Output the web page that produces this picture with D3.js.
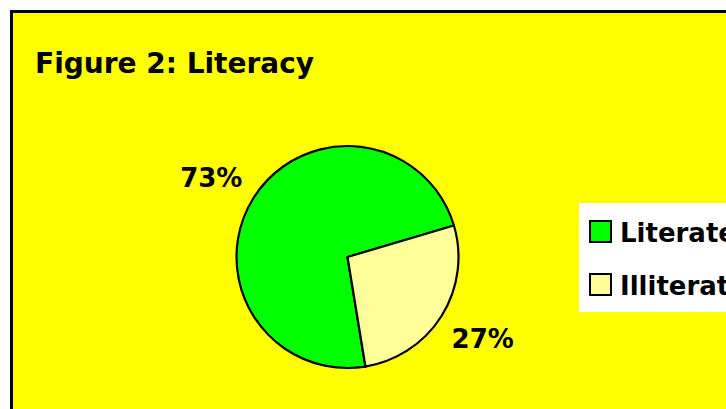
<!DOCTYPE html>
<html>
<head>
<meta charset="utf-8">
<script src="https://cdn.jsdelivr.net/npm/d3@7"></script>
<style>
    body { margin: 0; background: #fff; overflow: hidden; }
    text { font-family: "DejaVu Sans", sans-serif; font-weight: bold; fill: #000; }
</style>
</head>
<body>
<div id="chart"></div>
<script>
var categories      =   [ 'Literate', 'Illiterate' ];
var values          =   [ 73, 27 ];
var colors          =   [ '#00ff00', '#ffff99' ];

var chart_width     =   726;
var chart_height    =   409;

var svg             =   d3.select( '#chart' )
    .append( 'svg' )
    .attr( 'width', chart_width )
    .attr( 'height', chart_height );

// Background frame (runs off the right and bottom edge)
svg.append( 'rect' )
    .attr( 'x', 11.5 )
    .attr( 'y', 11.5 )
    .attr( 'width', chart_width + 20 )
    .attr( 'height', chart_height + 20 )
    .attr( 'fill', '#ffff00' )
    .attr( 'stroke', '#000' )
    .attr( 'stroke-width', 3 );

// Title
svg.append( 'text' )
    .attr( 'x', 35 )
    .attr( 'y', 73 )
    .attr( 'font-size', 28 )
    .text( 'Figure 2: Literacy' );

// Pie
var cx = 347.5, cy = 257, radius = 111;
var start = 170.7 * Math.PI / 180;

var pie = d3.pie()
    .sort( null )
    .startAngle( start )
    .endAngle( start + 2 * Math.PI );

var arc = d3.arc()
    .innerRadius( 0 )
    .outerRadius( radius );

var slices = pie( values );

var g = svg.append( 'g' )
    .attr( 'transform', 'translate(' + cx + ',' + cy + ')' );

g.selectAll( 'path' )
    .data( slices )
    .enter()
    .append( 'path' )
    .attr( 'd', arc )
    .attr( 'fill', function( d, i ){ return colors[i]; } )
    .attr( 'stroke', '#000' )
    .attr( 'stroke-width', 2.2 )
    .attr( 'stroke-linejoin', 'round' );

// Percent labels, placed outside the slices
var label_arc = d3.arc()
    .innerRadius( radius + 38 )
    .outerRadius( radius + 38 );

var label_offsets = [ [ -10, 9 ], [ 9, 12 ] ];

g.selectAll( '.pct' )
    .data( slices )
    .enter()
    .append( 'text' )
    .attr( 'class', 'pct' )
    .attr( 'text-anchor', 'middle' )
    .attr( 'font-size', 26 )
    .attr( 'x', function( d, i ){
        return label_arc.centroid( d )[0] + label_offsets[i][0];
    })
    .attr( 'y', function( d, i ){
        return label_arc.centroid( d )[1] + label_offsets[i][1];
    })
    .text( function( d ){ return d.data + '%'; } );

// Legend
var legend = svg.append( 'g' )
    .attr( 'transform', 'translate(579,203)' );

legend.append( 'rect' )
    .attr( 'width', 200 )
    .attr( 'height', 109 )
    .attr( 'fill', '#fff' );

var items = legend.selectAll( '.item' )
    .data( categories )
    .enter()
    .append( 'g' )
    .attr( 'class', 'item' )
    .attr( 'transform', function( d, i ){ return 'translate(0,' + ( i * 53 ) + ')'; } );

items.append( 'rect' )
    .attr( 'x', 11 )
    .attr( 'y', 18 )
    .attr( 'width', 21 )
    .attr( 'height', 21 )
    .attr( 'fill', function( d, i ){ return colors[i]; } )
    .attr( 'stroke', '#000' )
    .attr( 'stroke-width', 2 );

items.append( 'text' )
    .attr( 'x', 41 )
    .attr( 'y', 39 )
    .attr( 'font-size', 26 )
    .text( function( d ){ return d; } );
</script>
</body>
</html>
